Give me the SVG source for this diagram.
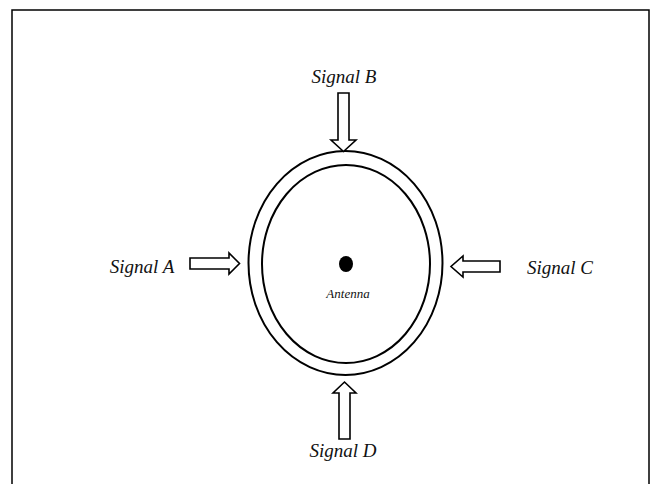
<svg xmlns="http://www.w3.org/2000/svg" width="651" height="484" viewBox="0 0 651 484">
<style>
.lbl{font-family:"Liberation Serif","DejaVu Serif",serif;font-style:italic;font-size:19px;fill:#111;text-anchor:middle}
.arr{fill:#fff;stroke:#000;stroke-width:1.6;stroke-linejoin:miter}
.ring{fill:none;stroke:#000;stroke-width:2}
</style>
<rect x="0" y="0" width="651" height="484" fill="#fff"/>
<path d="M12 484 V10 H649 V484" fill="none" stroke="#000" stroke-width="1.5"/>
<g id="ring">
<ellipse class="ring" cx="345.5" cy="263" rx="97" ry="112"/>
<ellipse class="ring" cx="346" cy="264" rx="84" ry="99"/>
</g>
<g id="antenna">
<ellipse cx="346" cy="264" rx="7" ry="8" fill="#000"/>
<text x="348" y="298" class="lbl" style="font-size:13px">Antenna</text>
</g>
<g id="connectors">
<path class="arr" d="M190 258 H229 V253 L239.5 263.5 L229 274 V269 H190 Z"/>
<path class="arr" d="M338 93 H349 V140 H356 L343.5 151.5 L331 140 H338 Z"/>
<path class="arr" d="M500 261 H463 V256 L451 266.5 L463 277 V272 H500 Z"/>
<path class="arr" d="M339 439 H350 V393 H356 L344.5 382 L333 393 H339 Z"/>
</g>
<g id="signalA"><text x="142" y="273" class="lbl">Signal A</text></g>
<g id="signalB"><text x="344" y="83" class="lbl">Signal B</text></g>
<g id="signalC"><text x="560" y="274" class="lbl">Signal C</text></g>
<g id="signalD"><text x="343" y="457" class="lbl">Signal D</text></g>
</svg>
